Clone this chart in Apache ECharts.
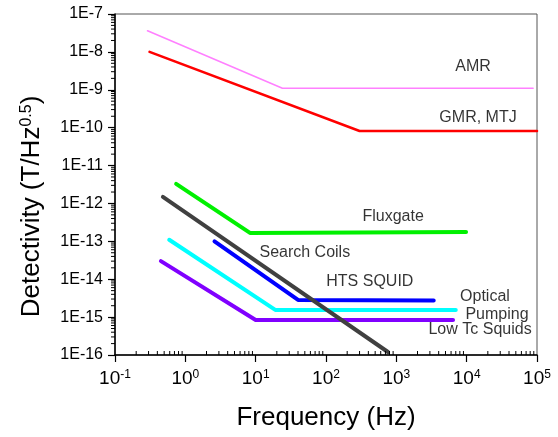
<!DOCTYPE html>
<html>
<head>
<meta charset="utf-8">
<script src="https://cdn.jsdelivr.net/npm/echarts@6/dist/echarts.min.js"></script>
<style>
  html, body { margin: 0; padding: 0; background: #fff; }
  #chart { width: 558px; height: 437px; }
</style>
</head>
<body>
<div id="chart"></div>
<script>
// sensor curves: frequency (Hz) vs detectivity (T/Hz^0.5)
const amrX = [0.29, 24, 88000];
const amrY = [3.6e-8, 1.1e-9, 1.1e-9];
const gmrX = [0.31, 300, 100000];
const gmrY = [1.0e-8, 8.2e-11, 8.2e-11];
const fluxX = [0.74, 8.3, 9800];
const fluxY = [3.3e-12, 1.67e-13, 1.75e-13];
const htsX = [2.6, 40, 3400];
const htsY = [1.0e-13, 2.85e-15, 2.75e-15];
const opticalX = [0.59, 19, 7000];
const opticalY = [1.1e-13, 1.55e-15, 1.55e-15];
const lowTcX = [0.45, 10, 6400];
const lowTcY = [3.0e-14, 8.4e-16, 8.4e-16];
const searchX = [0.48, 760];
const searchY = [1.5e-12, 1.2e-16];

// text labels placed in data coordinates
const labelText = ['AMR', 'GMR, MTJ', 'Fluxgate', 'Search Coils', 'HTS SQUID', 'Optical', 'Pumping', 'Low Tc Squids'];
const labelX = [12300, 14500, 900, 50, 420, 18200, 27000, 15500];
const labelY = [4.0e-9, 1.9e-10, 4.4e-13, 4.9e-14, 8.5e-15, 3.4e-15, 1.14e-15, 4.6e-16];

const X_MIN = 0.1, X_MAX = 1e5, Y_MIN = 1e-16, Y_MAX = 1e-7;
const FONT = 'Arial, "Liberation Sans", sans-serif';

const zip = (xs, ys) => xs.map((x, i) => [x, ys[i]]);

// minor tick positions (2..9 per decade)
const minorX = [];
for (let n = -1; n < 5; n++) for (let k = 2; k < 10; k++) minorX.push(k * Math.pow(10, n));
const minorY = [];
for (let n = -16; n < -7; n++) for (let k = 2; k < 10; k++) minorY.push(k * Math.pow(10, n));

function lineSeries(name, xs, ys, color, width) {
  return {
    name, type: 'line', data: zip(xs, ys), symbol: 'none',
    lineStyle: { color, width, cap: 'round', join: 'round' },
    itemStyle: { color }, silent: true, z: 3,
  };
}

const chart = echarts.init(document.getElementById('chart'), null, { renderer: 'canvas' });

chart.setOption({
  animation: false,
  backgroundColor: '#fff',
  grid: { left: 115, right: 21, top: 14, bottom: 82, show: true, borderColor: '#555', borderWidth: 1 },
  xAxis: {
    type: 'log', logBase: 10, min: X_MIN, max: X_MAX,
    name: 'Frequency (Hz)', nameLocation: 'middle', nameGap: 50,
    nameTextStyle: { fontSize: 26, color: '#000', fontFamily: FONT },
    axisLine: { lineStyle: { color: '#000', width: 1.5 } },
    axisTick: { show: true, length: 7, lineStyle: { color: '#000', width: 1.2 } },
    splitLine: { show: false },
    axisLabel: {
      margin: 14, color: '#000', fontFamily: FONT,
      formatter: v => '{b|10}{s|' + Math.round(Math.log10(v)) + '}',
      rich: {
        b: { fontSize: 19, fontFamily: FONT, color: '#000' },
        s: { fontSize: 12, fontFamily: FONT, color: '#000', verticalAlign: 'top' },
      },
    },
  },
  yAxis: {
    type: 'log', logBase: 10, min: Y_MIN, max: Y_MAX,
    name: '{t|Detectivity (T/Hz}{s|0.5}{t|)}', nameLocation: 'middle', nameGap: 70,
    nameTextStyle: {
      color: '#000', fontFamily: FONT, padding: [0, 44, 0, 0],
      rich: {
        t: { fontSize: 26, fontFamily: FONT, color: '#000' },
        s: { fontSize: 16, fontFamily: FONT, color: '#000', verticalAlign: 'top' },
      },
    },
    axisLine: { lineStyle: { color: '#000', width: 1.5 } },
    axisTick: { show: true, length: 7, lineStyle: { color: '#000', width: 1.2 } },
    splitLine: { show: false },
    axisLabel: {
      margin: 12, fontSize: 16, color: '#000', fontFamily: FONT,
      formatter: v => '1E' + Math.round(Math.log10(v)),
    },
  },
  series: [
    lineSeries('AMR', amrX, amrY, '#ff80ff', 1.6),
    lineSeries('GMR, MTJ', gmrX, gmrY, '#ff0000', 2.6),
    lineSeries('Fluxgate', fluxX, fluxY, '#00f000', 4),
    lineSeries('HTS SQUID', htsX, htsY, '#0000ff', 4),
    lineSeries('Optical Pumping', opticalX, opticalY, '#00ffff', 4),
    lineSeries('Low Tc Squids', lowTcX, lowTcY, '#8000ff', 4),
    lineSeries('Search Coils', searchX, searchY, '#404040', 4),
    {
      type: 'scatter', symbolSize: 0, silent: true, z: 5,
      data: labelText.map((t, i) => ({ value: [labelX[i], labelY[i]], name: t })),
      label: {
        show: true, position: 'inside', formatter: p => p.name,
        fontSize: 16, color: '#000', fontFamily: FONT,
      },
    },
    {
      // x minor ticks (inside)
      type: 'custom', silent: true, z: 6, clip: false,
      data: minorX.map(v => [v, Y_MIN]),
      renderItem: (params, api) => {
        const p = api.coord([api.value(0), api.value(1)]);
        return { type: 'line', shape: { x1: p[0], y1: p[1], x2: p[0], y2: p[1] - 4 }, style: { stroke: '#000', lineWidth: 1 } };
      },
    },
    {
      // y minor ticks (outside)
      type: 'custom', silent: true, z: 6, clip: false,
      data: minorY.map(v => [X_MIN, v]),
      renderItem: (params, api) => {
        const p = api.coord([api.value(0), api.value(1)]);
        return { type: 'line', shape: { x1: p[0], y1: p[1], x2: p[0] - 4, y2: p[1] }, style: { stroke: '#000', lineWidth: 1 } };
      },
    },
  ],
});
</script>
</body>
</html>
